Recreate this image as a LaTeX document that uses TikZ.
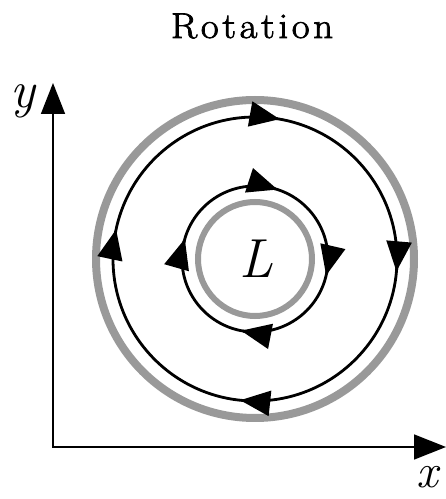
\documentclass[tikz,border=0pt]{standalone}
\usepackage{fontspec}
\newfontfamily\titlefont[LetterSpace=10,FakeStretch=1.08,FakeBold=2]{Latin Modern Roman}
\usetikzlibrary{arrows.meta,calc}
\begin{document}
\begin{tikzpicture}[x=1pt,y=1pt,
  halo/.style={draw=black!40, line width=#1},
  orbit/.style={draw=black, line width=2.8pt},
  head/.style={-{Triangle[length=30pt,width=25pt]}, line width=2.8pt},
  axis/.style={line width=1.6pt, {Triangle[length=31pt,width=24pt]}-{Triangle[length=32pt,width=25pt]}},
  lbl/.style={font=\fontsize{52}{56}\selectfont\itshape, inner sep=0pt}]
\useasboundingbox (0,0) rectangle (446,499);
\coordinate (C) at (255,240);
% title
\node[font=\titlefont\fontsize{36}{42}\selectfont, anchor=base, inner sep=0pt] (title) at (252,461) {Rotation};
% axes
\coordinate (O) at (53,52);
\coordinate (ytip) at (53,416);
\coordinate (xtip) at (446,52);
\draw[axis] (ytip) -- (O) -- (xtip);
\node[lbl, anchor=base] (ylab) at (23,391) {y};
\node[lbl, anchor=base, font=\fontsize{48}{52}\selectfont\itshape] (xlab) at (427,12) {x};
% halos
\draw[halo=8pt] (C) circle[radius=159pt];
\draw[halo=6pt] (C) circle[radius=57pt];
% orbits
\draw[orbit] (C) circle[radius=142pt];
\draw[orbit] (C) circle[radius=73pt];
% arrow heads (clockwise, tangent)
\foreach \a in {80,-5,264,168}
  \draw[head] ($(C)+(\a:142pt)+(\a+90:2pt)$) -- ($(C)+(\a:142pt)$);
\foreach \a in {72,-13,259,164}
  \draw[head] ($(C)+(\a:73pt)+(\a+90:2pt)$) -- ($(C)+(\a:73pt)$);
% centre label
\node[lbl, font=\fontsize{55}{60}\selectfont\itshape] (L) at (256,240) {L};
\end{tikzpicture}
\end{document}
